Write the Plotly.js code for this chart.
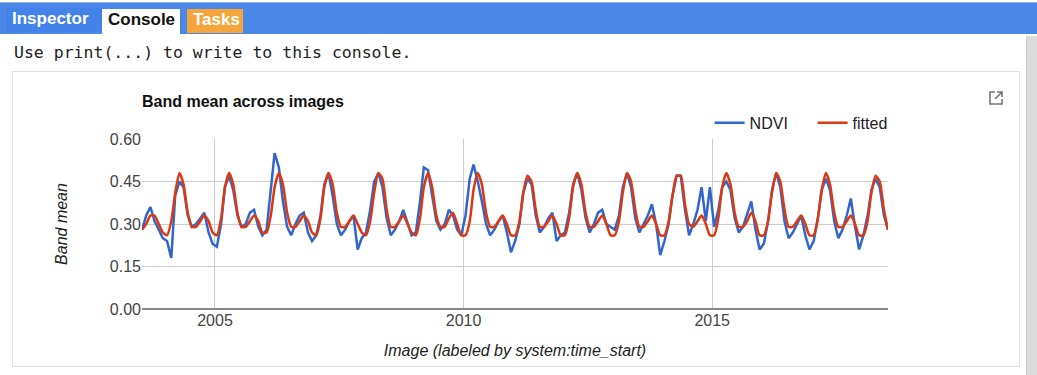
<!DOCTYPE html>
<html>
<head>
<meta charset="utf-8">
<script src="https://cdn.plot.ly/plotly-3.0.1.min.js"></script>
<style>
  html, body { margin:0; padding:0; width:1037px; height:375px; overflow:hidden; background:#fff; font-family:"Liberation Sans", Arial, sans-serif; }
  #bar { position:absolute; left:0; top:2px; width:1037px; height:31px; background:#4a87e6; border-top:1px solid #8fb5f0; }
  .tab { position:absolute; top:9px; height:24px; line-height:22px; font-weight:bold; font-size:17px; padding:0 6px; box-sizing:border-box; }
  #t1 { left:6px; width:96px; color:#fff; top:8px; background:#4382e8; }
  #t2 { left:102px; width:78px; color:#111; background:#fff; height:27px; }
  #t3 { left:187px; width:56px; color:#fff; background:#f4a63c; }
  #msg { position:absolute; left:14px; top:43px; font-family:"DejaVu Sans Mono", monospace; font-size:16.5px; color:#222; }
  #card { position:absolute; left:12px; top:71px; width:1008px; height:296px; border:1px solid #e2e2e2; box-sizing:border-box; }
  #scroll { position:absolute; left:1026px; top:36px; width:11px; height:339px; background:#dcdcdc; border-left:1px solid #c8c8c8; }
  #icon { position:absolute; left:988px; top:90px; }
  #chart { position:absolute; left:0; top:0; width:1037px; height:375px; z-index:2; }
</style>
</head>
<body>
<div id="bar"></div>
<div class="tab" id="t1">Inspector</div>
<div class="tab" id="t2">Console</div>
<div class="tab" id="t3">Tasks</div>
<div id="msg">Use print(...) to write to this console.</div>
<div id="card"></div>
<div id="scroll"></div>
<svg id="icon" width="16" height="16" viewBox="0 0 16 16">
  <path d="M7 2 H2 V14 H14 V9" fill="none" stroke="#777" stroke-width="1.6"/>
  <path d="M9 2 H14 V7 M14 2 L7 9" fill="none" stroke="#777" stroke-width="1.6"/>
</svg>
<div id="chart"></div>
<script>
// Monthly series, starting July 2003 (one value per month)
const startYear = 2003;
const startMonth = 7;

const ndvi = [
  0.28, 0.33, 0.36, 0.31, 0.28, 0.25,                               // 2003 Jul-Dec
  0.24, 0.18, 0.40, 0.45, 0.43, 0.33, 0.29, 0.30, 0.32, 0.34, 0.27, 0.23, // 2004
  0.22, 0.30, 0.43, 0.47, 0.42, 0.33, 0.29, 0.30, 0.34, 0.35, 0.29, 0.26, // 2005
  0.28, 0.42, 0.55, 0.50, 0.38, 0.29, 0.26, 0.30, 0.33, 0.34, 0.27, 0.24, // 2006
  0.26, 0.33, 0.44, 0.48, 0.40, 0.30, 0.26, 0.28, 0.31, 0.33, 0.21, 0.25, // 2007
  0.27, 0.35, 0.45, 0.48, 0.43, 0.32, 0.26, 0.28, 0.31, 0.35, 0.30, 0.26, // 2008
  0.27, 0.38, 0.50, 0.49, 0.40, 0.31, 0.28, 0.30, 0.35, 0.33, 0.28, 0.26, // 2009
  0.33, 0.46, 0.51, 0.45, 0.38, 0.30, 0.26, 0.28, 0.31, 0.33, 0.27, 0.20, // 2010
  0.24, 0.30, 0.41, 0.46, 0.44, 0.33, 0.27, 0.29, 0.32, 0.34, 0.24, 0.26, // 2011
  0.27, 0.34, 0.44, 0.48, 0.42, 0.32, 0.27, 0.30, 0.34, 0.35, 0.30, 0.29, // 2012
  0.28, 0.33, 0.43, 0.48, 0.43, 0.32, 0.27, 0.30, 0.33, 0.37, 0.30, 0.19, // 2013
  0.24, 0.30, 0.40, 0.47, 0.47, 0.35, 0.26, 0.30, 0.35, 0.43, 0.31, 0.43, // 2014
  0.29, 0.35, 0.43, 0.45, 0.42, 0.32, 0.27, 0.29, 0.34, 0.38, 0.28, 0.21, // 2015
  0.23, 0.31, 0.42, 0.48, 0.43, 0.31, 0.25, 0.27, 0.30, 0.33, 0.26, 0.21, // 2016
  0.24, 0.32, 0.42, 0.46, 0.42, 0.31, 0.25, 0.28, 0.33, 0.39, 0.29, 0.21, // 2017
  0.26, 0.33, 0.42, 0.46, 0.43, 0.33, 0.28                          // 2018 Jan-Jul
];

const fitted = [
  0.28, 0.30, 0.33, 0.33, 0.30, 0.27,                               // 2003 Jul-Dec
  0.26, 0.31, 0.41, 0.48, 0.44, 0.34, 0.29, 0.29, 0.31, 0.33, 0.31, 0.27, // 2004
  0.26, 0.32, 0.43, 0.48, 0.44, 0.34, 0.29, 0.29, 0.31, 0.33, 0.31, 0.27, // 2005
  0.27, 0.33, 0.43, 0.48, 0.44, 0.34, 0.29, 0.29, 0.31, 0.33, 0.31, 0.27, // 2006
  0.26, 0.32, 0.43, 0.48, 0.44, 0.34, 0.29, 0.29, 0.31, 0.33, 0.30, 0.27, // 2007
  0.26, 0.31, 0.41, 0.48, 0.46, 0.35, 0.29, 0.29, 0.31, 0.33, 0.30, 0.27, // 2008
  0.26, 0.32, 0.43, 0.48, 0.43, 0.33, 0.29, 0.29, 0.32, 0.34, 0.30, 0.26, // 2009
  0.26, 0.31, 0.42, 0.48, 0.44, 0.34, 0.29, 0.29, 0.31, 0.33, 0.30, 0.26, // 2010
  0.26, 0.31, 0.41, 0.47, 0.45, 0.35, 0.29, 0.29, 0.31, 0.33, 0.30, 0.26, // 2011
  0.26, 0.32, 0.43, 0.48, 0.44, 0.34, 0.29, 0.29, 0.31, 0.33, 0.30, 0.26, // 2012
  0.26, 0.31, 0.41, 0.48, 0.45, 0.35, 0.29, 0.29, 0.31, 0.33, 0.30, 0.26, // 2013
  0.26, 0.31, 0.40, 0.47, 0.47, 0.37, 0.30, 0.29, 0.31, 0.33, 0.30, 0.26, // 2014
  0.26, 0.32, 0.43, 0.48, 0.44, 0.34, 0.29, 0.29, 0.31, 0.34, 0.31, 0.26, // 2015
  0.26, 0.31, 0.41, 0.48, 0.45, 0.35, 0.29, 0.29, 0.31, 0.33, 0.30, 0.26, // 2016
  0.26, 0.32, 0.42, 0.48, 0.44, 0.34, 0.29, 0.29, 0.31, 0.33, 0.30, 0.26, // 2017
  0.26, 0.31, 0.41, 0.47, 0.45, 0.35, 0.28                          // 2018 Jan-Jul
];

const yTicks = [0, 0.15, 0.30, 0.45, 0.60];
const xTickVals = ['2005-01-01', '2010-01-01', '2015-01-01'];
const xTickText = ['2005', '2010', '2015'];

function monthDate(i) {
  const m0 = startMonth - 1 + i;
  const y = startYear + Math.floor(m0 / 12);
  const m = (m0 % 12) + 1;
  return y + '-' + String(m).padStart(2, '0') + '-15';
}
const dates = ndvi.map((_, i) => monthDate(i));

const font = "Liberation Sans, Arial, sans-serif";

const traces = [
  { x: dates, y: ndvi, name: 'NDVI', type: 'scatter', mode: 'lines',
    line: { color: '#3366cc', width: 2.5 } },
  { x: dates, y: fitted, name: 'fitted', type: 'scatter', mode: 'lines',
    line: { color: '#dc3912', width: 2.5, shape: 'spline', smoothing: 0.6 } }
];

const layout = {
  width: 1037, height: 375,
  margin: { l: 142, r: 149, t: 139, b: 66 },
  paper_bgcolor: 'rgba(0,0,0,0)', plot_bgcolor: 'rgba(0,0,0,0)',
  font: { family: font, size: 16, color: '#444' },
  title: { text: 'Band mean across images', x: 0, xref: 'paper', xanchor: 'left',
           y: 1 - 101 / 375, yref: 'container', yanchor: 'middle',
           font: { family: font, size: 16, weight: 700, color: '#111' } },
  showlegend: true,
  legend: { orientation: 'h', x: 1.037, xanchor: 'right', y: 1.095, yanchor: 'middle',
            font: { family: font, size: 16, color: '#222' }, itemwidth: 30,
            entrywidth: 58, entrywidthmode: 'pixels',
            bgcolor: 'rgba(0,0,0,0)' },
  xaxis: { type: 'date', range: [dates[0], dates[dates.length - 1]],
           tickvals: xTickVals, ticktext: xTickText, tickfont: { size: 16, color: '#444' },
           showgrid: true, gridcolor: '#cccccc', gridwidth: 1, zeroline: false,
           showline: false, ticks: '',
           title: { text: 'Image (labeled by system:time_start)', standoff: 16,
                    font: { family: font, size: 16, color: '#222', style: 'italic' } } },
  yaxis: { range: [0, 0.6], tickvals: yTicks, tickformat: '.2f', tickfont: { size: 16, color: '#444' },
           showgrid: true, gridcolor: '#cccccc', gridwidth: 1,
           zeroline: true, zerolinecolor: '#888', zerolinewidth: 2, ticks: '', ticklen: 0,
           title: { text: 'Band mean', standoff: 38,
                    font: { family: font, size: 16, color: '#222', style: 'italic' } } },
  hovermode: false
};

Plotly.newPlot('chart', traces, layout, { displayModeBar: false, staticPlot: true });
</script>
</body>
</html>
